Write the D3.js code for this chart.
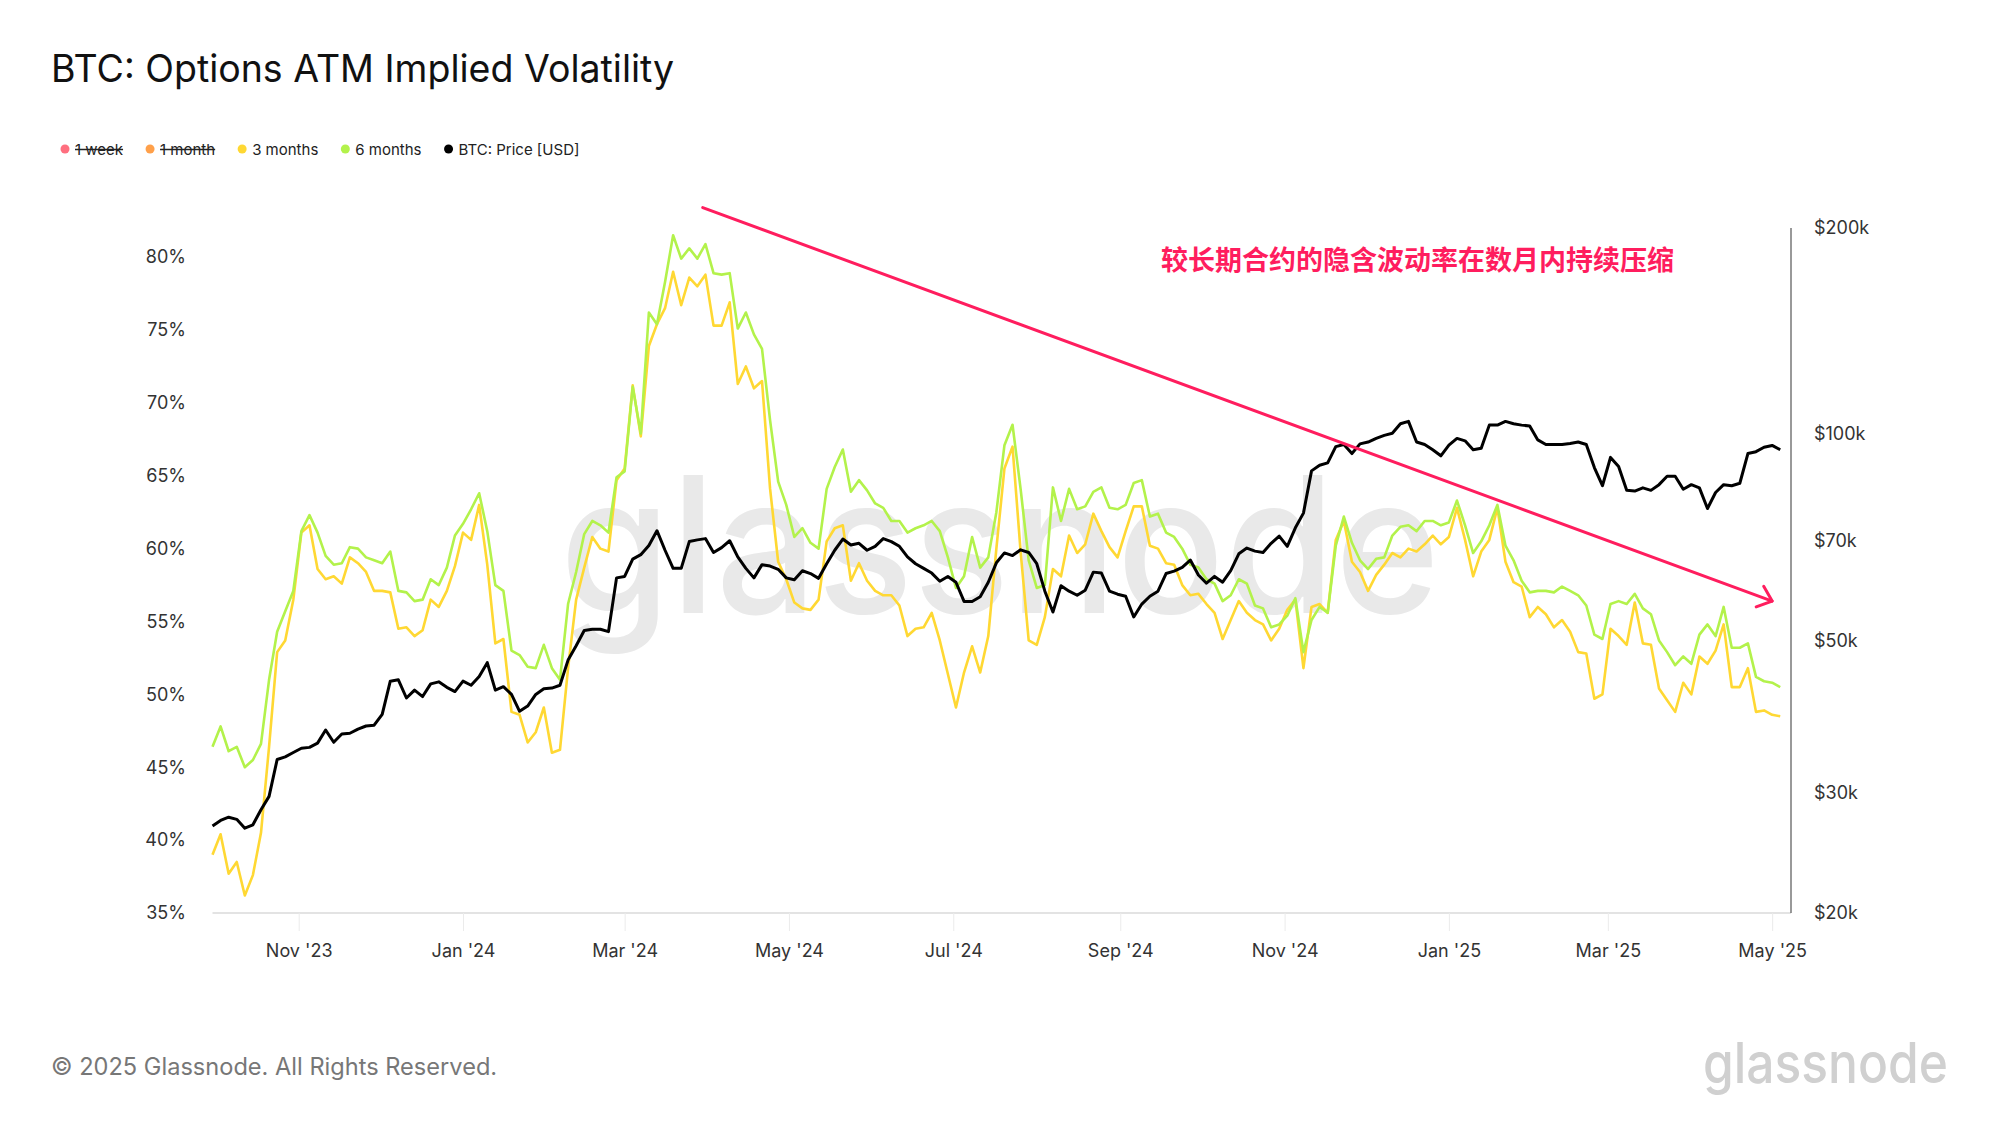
<!DOCTYPE html>
<html>
<head>
<meta charset="utf-8">
<script src="https://cdn.jsdelivr.net/npm/d3@7"></script>
<style>
  html, body { margin: 0; padding: 0; background: #fff; }
  svg text { font-family: Inter, "Noto Sans", sans-serif; }
</style>
</head>
<body>
<div id="chart"></div>
<script>
// dates: every 3 days from 30 Sep 2023
var startDate = Date.UTC(2023, 8, 30);
var stepDays = 3;

// 3 months ATM IV (%)
var iv3m = [
  39.0, 40.4, 37.7, 38.5, 36.2, 37.6, 40.5, 46.4, 52.9, 53.7, 56.5, 61.1, 61.6, 58.6, 57.9, 58.1, 57.6, 59.4, 59.0, 58.4,
  57.1, 57.1, 57.0, 54.5, 54.6, 54.0, 54.4, 56.5, 56.0, 57.1, 58.8, 61.1, 60.6, 63.0,
  58.9, 53.5, 53.8, 48.8, 48.6, 46.7, 47.4, 49.1, 46.0, 46.2, 51.8, 56.5, 58.7, 60.8, 60.0, 59.8, 64.7, 65.5, 71.2, 67.7,
  73.9, 75.4, 76.5, 79.0, 76.7, 78.6, 78.0, 78.8, 75.3, 75.3, 76.9, 71.3, 72.5,
  71.0, 71.5, 64.1, 59.1, 57.9, 56.3, 55.9, 55.8, 56.5, 60.5, 61.4, 61.6, 57.8, 59.0, 57.8, 57.1, 56.8, 56.8, 56.1, 54.0,
  54.5, 54.6, 55.6, 53.7, 51.4, 49.1, 51.5, 53.3, 51.5, 54.0, 60.0, 65.5, 67.0,
  59.8, 53.7, 53.4, 55.3, 58.6, 58.1, 60.9, 59.7, 60.3, 62.4, 61.2, 60.1, 59.4, 61.2, 62.9, 62.9, 60.2, 60.0, 59.0, 58.9,
  57.5, 56.8, 56.9, 56.2, 55.6, 53.8, 55.1, 56.4, 55.6, 55.1, 54.8, 53.7, 54.5, 55.8,
  56.5, 51.8, 56.0, 56.2, 55.6, 60.6, 61.9, 59.1, 58.4, 57.1, 58.2, 58.9, 59.7, 59.4, 60.0, 59.8, 60.3, 60.9, 60.3, 60.8,
  62.8, 60.6, 58.1, 59.8, 60.6, 62.8, 59.1, 57.7, 57.4, 55.3, 56.0, 55.5, 54.6,
  55.1, 54.3, 52.9, 52.8, 49.7, 50.0, 54.5, 54.0, 53.4, 56.3, 53.5, 53.4, 50.4, 49.6, 48.8, 50.8, 50.0, 52.6, 52.1, 53.0,
  54.8, 50.5, 50.5, 51.8, 48.8, 48.9, 48.6, 48.5
];

// 6 months ATM IV (%)
var iv6m = [
  46.4, 47.8, 46.1, 46.4, 45.0, 45.5, 46.6, 51.0, 54.3, 55.7, 57.1, 61.2, 62.3, 61.1, 59.5, 58.9, 59.0, 60.1, 60.0, 59.4,
  59.2, 59.0, 59.8, 57.1, 57.0, 56.4, 56.5, 57.9, 57.5, 58.7, 60.9, 61.7, 62.7, 63.8,
  61.2, 57.5, 57.1, 53.0, 52.7, 51.9, 51.8, 53.4, 51.8, 51.0, 56.2, 58.4, 61.0, 61.9, 61.6, 61.1, 64.9, 65.3, 71.1, 67.9,
  76.2, 75.4, 78.3, 81.5, 79.9, 80.6, 79.9, 80.9, 78.9, 78.8, 78.9, 75.1, 76.2,
  74.7, 73.7, 68.8, 64.6, 63.0, 60.8, 61.4, 60.4, 60.0, 64.1, 65.6, 66.8, 63.9, 64.7, 64.0, 63.1, 62.8, 61.9, 61.9, 61.1,
  61.4, 61.6, 61.9, 61.2, 59.4, 57.3, 58.1, 60.8, 58.7, 59.4, 62.5, 67.1, 68.5,
  64.1, 59.2, 57.3, 57.5, 64.2, 61.9, 64.1, 62.7, 62.9, 63.9, 64.2, 62.8, 62.7, 63.0, 64.5, 64.7, 62.2, 62.4, 61.1, 60.8,
  60.0, 58.9, 58.7, 57.9, 57.6, 56.4, 56.8, 57.9, 57.6, 56.1, 55.9, 54.6, 54.8, 55.4,
  56.6, 52.9, 55.1, 56.0, 55.6, 60.2, 62.2, 60.4, 59.2, 58.6, 59.3, 59.4, 60.9, 61.5, 61.6, 61.2, 61.9, 61.9, 61.6, 61.8,
  63.3, 61.6, 59.7, 60.5, 61.6, 63.0, 60.2, 59.2, 57.8, 57.0, 57.1, 57.1, 57.0,
  57.4, 57.1, 56.8, 56.1, 54.1, 53.8, 56.2, 56.4, 56.2, 56.9, 55.9, 55.5, 53.7, 52.9, 52.0, 52.6, 52.1, 54.1, 54.8, 54.0,
  56.0, 53.2, 53.2, 53.5, 51.2, 50.9, 50.8, 50.5
];

// BTC price (thousand USD)
var btcPrice = [
  26.8, 27.3, 27.6, 27.4, 26.6, 26.9, 28.3, 29.6, 33.5, 33.8, 34.3, 34.8, 34.9, 35.4, 37.0, 35.5, 36.5, 36.6, 37.1, 37.5,
  37.6, 39.0, 43.6, 43.8, 41.2, 42.3, 41.4, 43.2, 43.5, 42.7, 42.1, 43.6, 43.0, 44.3,
  46.4, 42.3, 42.8, 41.7, 39.4, 40.1, 41.7, 42.5, 42.6, 43.0, 46.8, 49.1, 51.7, 51.9, 51.9, 51.5, 61.7, 62.0, 65.7, 66.7,
  68.8, 72.3, 67.7, 63.7, 63.7, 69.7, 70.1, 70.4, 67.2, 68.3, 69.9, 66.2, 63.7,
  61.7, 64.5, 64.2, 63.5, 61.7, 61.3, 63.2, 62.6, 61.6, 64.7, 67.7, 70.3, 68.9, 69.3, 67.7, 68.6, 70.4, 69.7, 68.6, 66.2,
  64.7, 63.7, 62.7, 61.0, 62.0, 60.8, 57.0, 57.0, 57.9, 60.8, 64.9, 67.1, 66.5,
  67.8, 67.2, 64.7, 59.0, 55.0, 60.1, 59.0, 58.2, 59.2, 62.9, 62.7, 59.0, 58.4, 58.0, 54.1, 56.5, 58.0, 59.0, 62.6, 63.1,
  63.9, 65.5, 62.3, 60.6, 62.0, 60.8, 63.2, 66.9, 68.2, 67.5, 67.2, 69.3, 71.0, 68.6,
  73.0, 76.7, 88.4, 90.1, 90.8, 95.9, 96.6, 93.7, 96.8, 97.4, 98.6, 99.6, 100.3, 103.6, 104.4, 97.4, 96.6, 94.9, 93.0, 96.4,
  98.6, 97.8, 94.9, 95.4, 103.1, 103.1, 104.4, 103.6, 103.1, 102.8, 98.1, 96.6, 96.6,
  96.6, 96.9, 97.4, 96.6, 89.4, 84.1, 92.5, 89.7, 82.8, 82.6, 83.5, 82.8, 84.4, 86.8, 86.8, 83.1, 84.4, 83.5, 77.9, 82.2,
  84.4, 84.1, 84.8, 93.7, 94.3, 95.7, 96.3, 94.9
];

var leftTicks = [35, 40, 45, 50, 55, 60, 65, 70, 75, 80];
var rightTicks = [20000, 30000, 50000, 70000, 100000, 200000];
var xTickDates = ["2023-11-01", "2024-01-01", "2024-03-01", "2024-05-01", "2024-07-01",
                  "2024-09-01", "2024-11-01", "2025-01-01", "2025-03-01", "2025-05-01"];

var legendItems = [
  { name: "1 week", color: "#ff6f7f", off: true },
  { name: "1 month", color: "#ffa04a", off: true },
  { name: "3 months", color: "#ffd833", off: false },
  { name: "6 months", color: "#b3f24b", off: false },
  { name: "BTC: Price [USD]", color: "#000000", off: false }
];

var width = 2000, height = 1125;
var plot = { left: 212.5, right: 1791, top: 228, bottom: 913 };

var svg = d3.select("#chart").append("svg")
    .attr("width", width)
    .attr("height", height);

var dates = iv3m.map(function(d, i) { return new Date(startDate + i * stepDays * 864e5); });

var x = d3.scaleUtc()
    .domain([new Date(startDate), new Date(Date.UTC(2025, 4, 8))])
    .range([plot.left, plot.right]);

var yL = d3.scaleLinear()
    .domain([35, 82])
    .range([plot.bottom, plot.top]);

var yR = d3.scaleLog()
    .domain([20000, 200000])
    .range([plot.bottom, plot.top]);

/* watermark */
svg.append("text")
    .attr("x", 560)
    .attr("y", 613)
    .attr("textLength", 880)
    .attr("lengthAdjust", "spacingAndGlyphs")
    .style("font-size", "190px")
    .style("font-weight", 500)
    .style("fill", "#e9e9e9")
    .text("glassnode");

/* title */
svg.append("text")
    .attr("x", 51)
    .attr("y", 82)
    .style("font-size", "37.5px")
    .style("fill", "#111")
    .text("BTC: Options ATM Implied Volatility");

/* legend */
var lx = 65;
legendItems.forEach(function(d) {
    svg.append("circle")
        .attr("cx", lx).attr("cy", 149).attr("r", 4.5)
        .style("fill", d.color);
    var t = svg.append("text")
        .attr("x", lx + 10)
        .attr("y", 154.5)
        .style("font-size", "15px")
        .style("fill", "#222")
        .text(d.name);
    var w = t.node().getComputedTextLength();
    if (d.off) {
        svg.append("line")
            .attr("x1", lx + 10).attr("x2", lx + 10 + w)
            .attr("y1", 149.5).attr("y2", 149.5)
            .style("stroke", "#222").style("stroke-width", 1.3);
    }
    lx = lx + 10 + w + 27;
});

/* x axis */
svg.append("line")
    .attr("x1", plot.left).attr("x2", plot.right)
    .attr("y1", plot.bottom).attr("y2", plot.bottom)
    .style("stroke", "#e3e3e3").style("stroke-width", 2);

var xAxis = svg.append("g")
    .attr("transform", "translate(0," + plot.bottom + ")")
    .call(d3.axisBottom(x)
        .tickValues(xTickDates.map(function(s) { return new Date(s + "T00:00:00Z"); }))
        .tickSize(18)
        .tickPadding(13)
        .tickFormat(d3.utcFormat("%b '%y")));
xAxis.select(".domain").remove();
xAxis.selectAll(".tick line").style("stroke", "#ebebeb");
xAxis.selectAll(".tick text")
    .style("font-family", "Inter")
    .style("font-size", "18px")
    .style("fill", "#333");

/* left axis */
var leftAxis = svg.append("g")
    .attr("transform", "translate(186,0)")
    .call(d3.axisLeft(yL)
        .tickValues(leftTicks)
        .tickSize(0)
        .tickPadding(0)
        .tickFormat(function(d) { return d + "%"; }));
leftAxis.select(".domain").remove();
leftAxis.selectAll(".tick text")
    .style("font-family", "Inter")
    .style("font-size", "18px")
    .style("fill", "#333");

/* right axis */
svg.append("line")
    .attr("x1", plot.right).attr("x2", plot.right)
    .attr("y1", plot.top).attr("y2", plot.bottom)
    .style("stroke", "#555").style("stroke-width", 1.2);

var rightAxis = svg.append("g")
    .attr("transform", "translate(1814,0)")
    .call(d3.axisRight(yR)
        .tickValues(rightTicks)
        .tickSize(0)
        .tickPadding(0)
        .tickFormat(function(d) { return "$" + (d / 1000) + "k"; }));
rightAxis.select(".domain").remove();
rightAxis.selectAll(".tick text")
    .style("font-family", "Inter")
    .style("font-size", "18px")
    .style("fill", "#333");

/* lines */
var lineL = d3.line()
    .x(function(d, i) { return x(dates[i]); })
    .y(function(d) { return yL(d); });

var lineR = d3.line()
    .x(function(d, i) { return x(dates[i]); })
    .y(function(d) { return yR(d * 1000); });

svg.append("path")
    .datum(iv3m)
    .attr("d", lineL)
    .style("fill", "none")
    .style("stroke", "#ffd833")
    .style("stroke-width", 2.6)
    .style("stroke-linejoin", "round");

svg.append("path")
    .datum(iv6m)
    .attr("d", lineL)
    .style("fill", "none")
    .style("stroke", "#b3f24b")
    .style("stroke-width", 2.6)
    .style("stroke-linejoin", "round");

svg.append("path")
    .datum(btcPrice)
    .attr("d", lineR)
    .style("fill", "none")
    .style("stroke", "#000")
    .style("stroke-width", 3)
    .style("stroke-linejoin", "round");

/* annotation arrow */
var arrowColor = "#ff1d5e";
var a0 = [x(new Date(Date.UTC(2024, 2, 30))), yL(83.4)];
var a1 = [x(new Date(Date.UTC(2025, 4, 1))), yL(56.4)];
svg.append("line")
    .attr("x1", a0[0]).attr("y1", a0[1])
    .attr("x2", a1[0]).attr("y2", a1[1])
    .style("stroke", arrowColor).style("stroke-width", 3)
    .style("stroke-linecap", "round");

var ang = Math.atan2(a1[1] - a0[1], a1[0] - a0[0]);
var headLen = 17, headAng = 40 * Math.PI / 180;
var head = [
    [a1[0] - headLen * Math.cos(ang - headAng), a1[1] - headLen * Math.sin(ang - headAng)],
    a1,
    [a1[0] - headLen * Math.cos(ang + headAng), a1[1] - headLen * Math.sin(ang + headAng)]
];
svg.append("path")
    .attr("d", d3.line()(head))
    .style("fill", "none")
    .style("stroke", arrowColor).style("stroke-width", 3)
    .style("stroke-linecap", "round")
    .style("stroke-linejoin", "round");

svg.append("text")
    .attr("x", 1161)
    .attr("y", 270)
    .style("font-family", "'Noto Sans CJK SC'")
    .style("font-size", "27px")
    .style("font-weight", 700)
    .style("fill", arrowColor)
    .text("较长期合约的隐含波动率在数月内持续压缩");

/* footer */
svg.append("text")
    .attr("x", 51)
    .attr("y", 1075)
    .style("font-size", "23.6px")
    .style("fill", "#777")
    .text("© 2025 Glassnode. All Rights Reserved.");

svg.append("text")
    .attr("x", 1703)
    .attr("y", 1083)
    .attr("textLength", 245)
    .attr("lengthAdjust", "spacingAndGlyphs")
    .style("font-size", "56px")
    .style("font-weight", 500)
    .style("fill", "#d0d0d0")
    .text("glassnode");
</script>
</body>
</html>
